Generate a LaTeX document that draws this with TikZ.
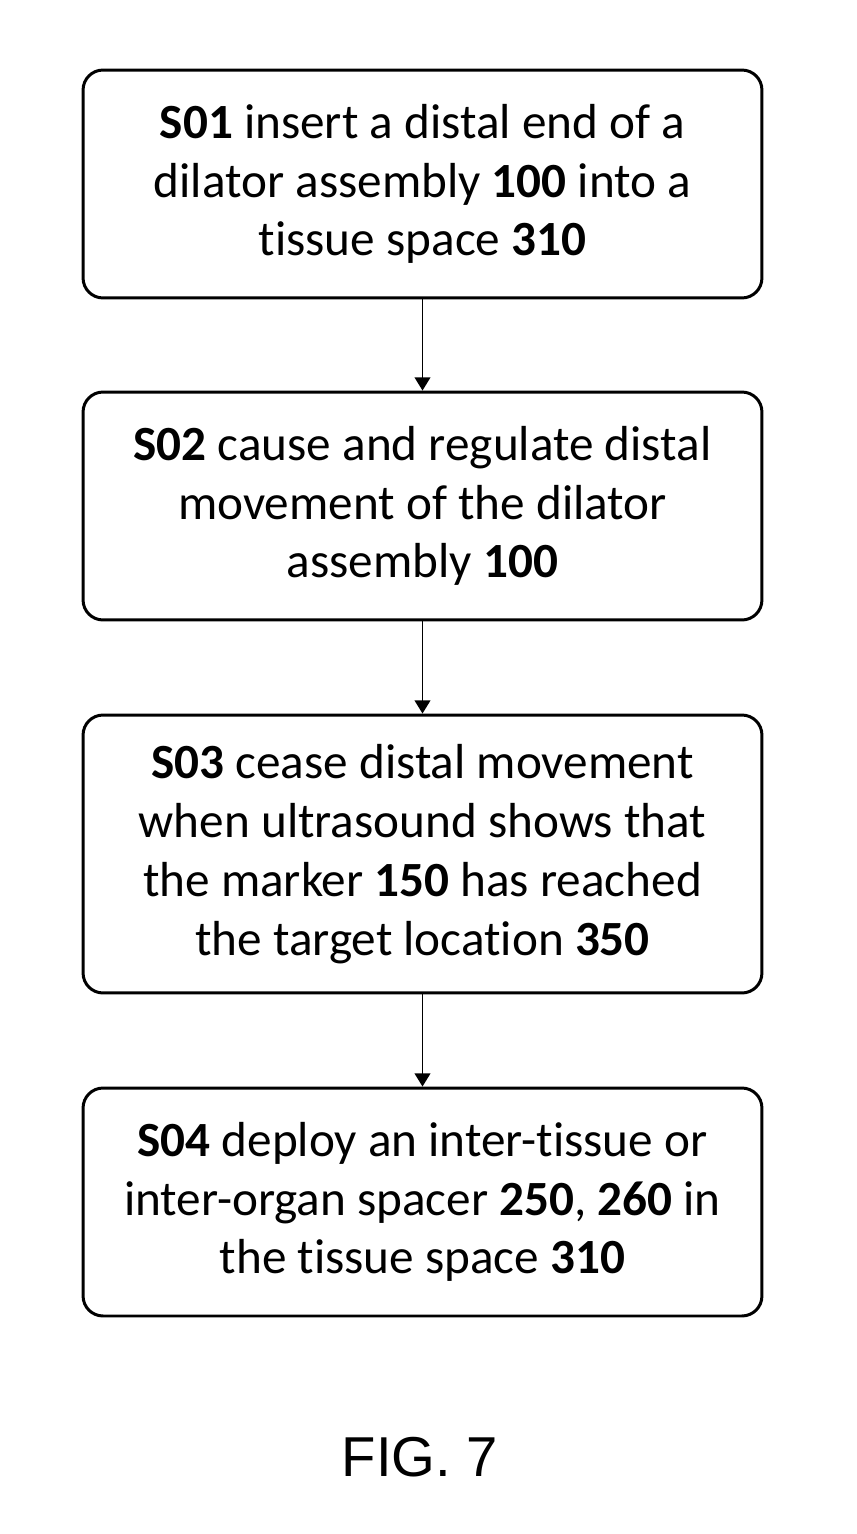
\documentclass[tikz,border=0pt]{standalone}
\usepackage{fontspec}
\setmainfont{Carlito}[Ligatures=NoCommon]
\newfontfamily\figfont{Liberation Sans}
\usetikzlibrary{arrows.meta}

\tikzset{
  stepbox/.style={draw=black, line width=1.7pt, rounded corners=0.4cm,
    minimum width=13.58cm, align=center,
    font=\fontsize{28}{33.5}\selectfont},
  flowarrow/.style={line width=0.75pt, -{Triangle[length=7.5pt, width=9pt]}}
}

\begin{document}
\begin{tikzpicture}[x=0.02cm, y=-0.02cm]
\useasboundingbox (0,0) rectangle (856,1534);
\node[stepbox, minimum height=4.56cm] (s01) at (422.5,184)
  {\textbf{S01} insert a distal end of a\\dilator assembly \textbf{100} into a\\tissue space \textbf{310}};
\node[stepbox, minimum height=4.56cm] (s02) at (422.5,506)
  {\textbf{S02} cause and regulate distal\\movement of the dilator\\assembly \textbf{100}};
\node[stepbox, minimum height=5.56cm] (s03) at (422.5,854)
  {\textbf{S03} cease distal movement\\when ultrasound shows that\\the marker \textbf{150} has reached\\the target location \textbf{350}};
\node[stepbox, minimum height=4.56cm] (s04) at (422.5,1202)
  {\textbf{S04} deploy an inter-tissue or\\inter-organ spacer \textbf{250}, \textbf{260} in\\the tissue space \textbf{310}};
\draw[flowarrow] (s01) -- (s02);
\draw[flowarrow] (s02) -- (s03);
\draw[flowarrow] (s03) -- (s04);
\node[font=\figfont\fontsize{32}{38}\selectfont] (fig) at (420,1457) {FIG. 7};
\end{tikzpicture}
\end{document}
